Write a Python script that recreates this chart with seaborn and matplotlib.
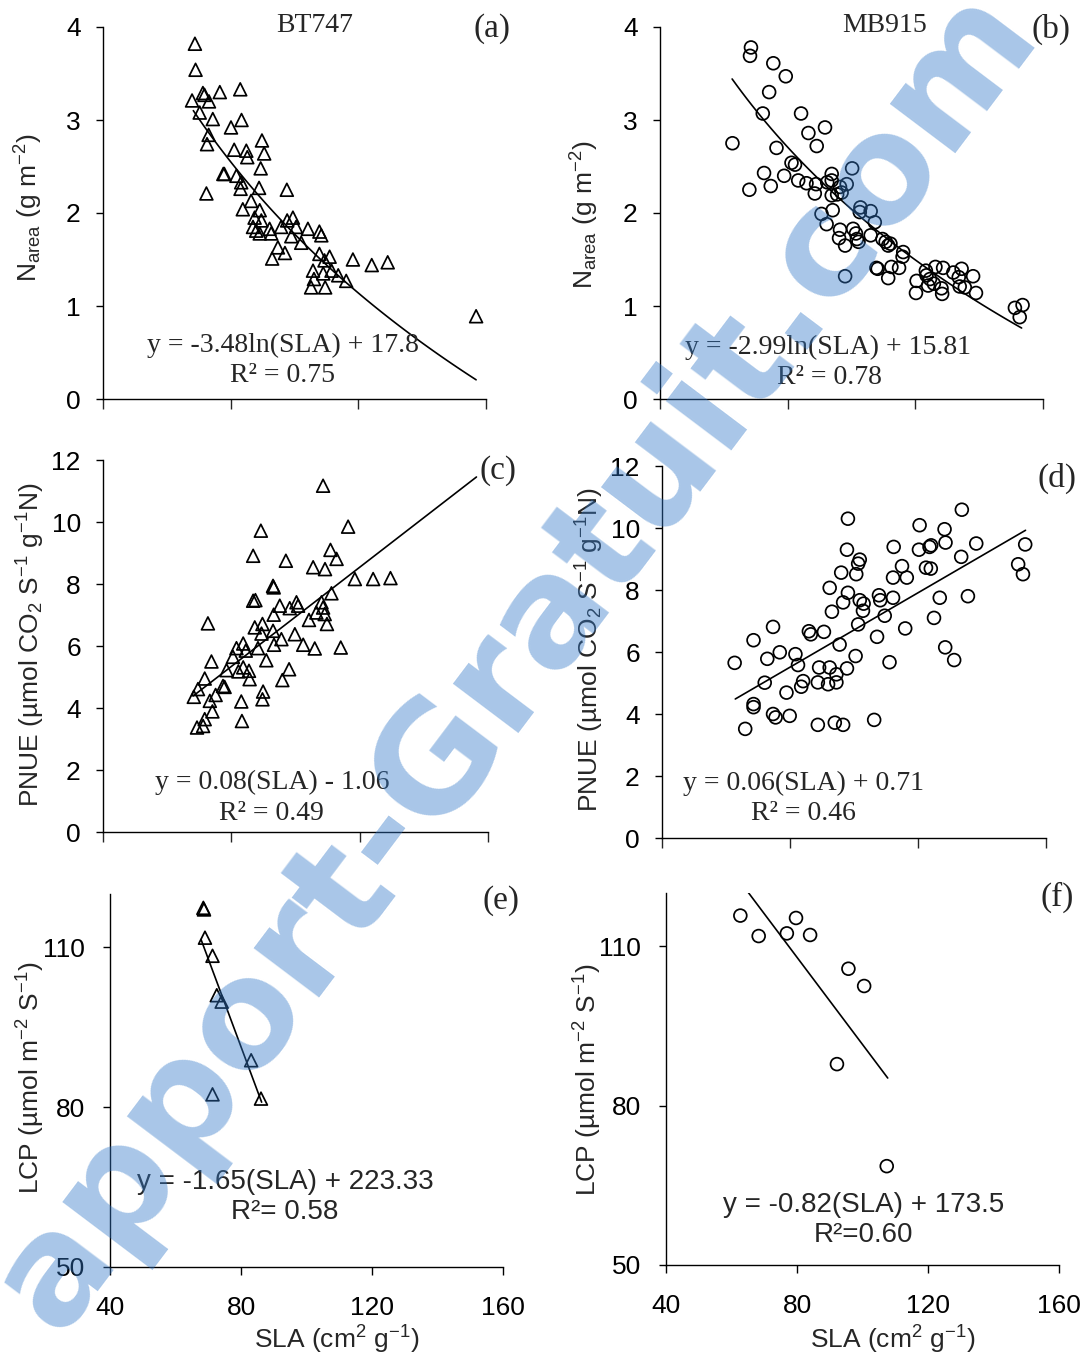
import numpy as np
import pandas as pd
import matplotlib
matplotlib.use('Agg')
import matplotlib.pyplot as plt
import seaborn as sns

# ---------------- data ----------------
a_sla = [68.8, 69.0, 67.9, 71.3, 71.8, 73.2, 70.3, 76.6, 83.0, 74.4, 80.1, 83.4, 73.1, 72.6, 81.1, 84.9, 85.2, 89.8, 90.5, 89.4,
         77.7, 78.0, 81.8, 83.3, 83.1, 72.4, 88.9, 97.6, 86.4, 83.8, 89.1, 87.5, 89.6, 87.0, 88.0, 89.1, 92.2, 92.7, 95.8, 97.7,
         99.5, 100.5, 99.0, 102.1, 104.2, 107.8, 108.4, 94.8, 97.0, 93.0, 107.8, 109.4, 111.0, 105.8, 109.0, 111.6, 113.7, 116.2,
         105.2, 109.6, 106.1, 118.3, 124.2, 129.2, 156.9]
a_narea = [3.82, 3.54, 3.21, 3.29, 3.27, 3.20, 3.08, 3.30, 3.33, 3.01, 2.92, 3.00, 2.84, 2.74, 2.68, 2.67, 2.60, 2.78, 2.64, 2.48,
           2.42, 2.42, 2.40, 2.33, 2.26, 2.21, 2.27, 2.25, 2.13, 2.04, 2.03, 1.95, 1.92, 1.85, 1.81, 1.78, 1.83, 1.78, 1.85, 1.92,
           1.95, 1.85, 1.75, 1.68, 1.83, 1.80, 1.76, 1.63, 1.57, 1.51, 1.56, 1.49, 1.53, 1.38, 1.35, 1.38, 1.33, 1.27,
           1.20, 1.20, 1.29, 1.50, 1.44, 1.47, 0.89]

b_sla = [68.5, 68.2, 75.5, 79.4, 74.2, 72.2, 84.2, 91.7, 86.5, 89.1, 62.7, 76.5, 81.2, 82.3, 100.2, 72.6, 78.9, 83.3, 85.9, 88.9,
         74.7, 68.0, 93.8, 93.8, 96.4, 98.5, 88.5, 92.4, 95.5, 93.8, 96.9, 90.6, 94.1, 102.8, 102.6, 106.0, 92.2, 107.3, 96.4, 100.5,
         101.4, 96.1, 98.0, 101.7, 102.2, 106.0, 109.7, 111.5, 110.7, 112.2, 116.2, 116.0, 108.2, 107.8, 112.5, 114.9, 111.5, 98.0,
         120.4, 120.2, 123.3, 123.5, 124.6, 126.3, 128.7, 124.0, 125.8, 128.2, 128.4, 131.9, 134.5, 133.6, 133.9, 135.5, 138.1,
         139.0, 151.2, 153.6, 152.7]
b_narea = [3.78, 3.69, 3.61, 3.47, 3.30, 3.07, 3.07, 2.92, 2.86, 2.72, 2.75, 2.70, 2.54, 2.52, 2.48, 2.43, 2.40, 2.35, 2.32, 2.31,
           2.29, 2.25, 2.42, 2.35, 2.28, 2.31, 2.21, 2.33, 2.20, 2.19, 2.22, 1.99, 2.03, 2.06, 2.01, 2.02, 1.88, 1.90, 1.82, 1.83,
           1.78, 1.73, 1.65, 1.72, 1.69, 1.76, 1.72, 1.65, 1.69, 1.67, 1.58, 1.53, 1.40, 1.41, 1.42, 1.41, 1.30, 1.32,
           1.27, 1.14, 1.38, 1.33, 1.29, 1.42, 1.41, 1.22, 1.24, 1.19, 1.13, 1.36, 1.40, 1.31, 1.21, 1.20, 1.32,
           1.14, 0.98, 1.01, 0.88]

c_sla = [108.6, 89.2, 116.4, 110.9, 112.8, 86.8, 97.0, 105.5, 109.2, 118.5, 124.2, 129.6, 93.0, 93.2, 111.2, 86.8, 87.5, 95.1,
         98.2, 100.3, 100.8, 108.1, 108.6, 106.5, 109.1, 109.8, 93.2, 104.2, 72.7, 87.3, 89.7, 89.4, 93.0, 95.6, 99.8, 102.4,
         106.0, 114.1, 93.3, 88.3, 81.6, 83.7, 84.5, 80.5, 90.9, 73.8, 78.5, 82.2, 83.7, 85.5, 85.7, 98.0, 95.9, 71.7, 77.4,
         77.9, 69.6, 68.3, 75.1, 73.3, 83.1, 89.9, 89.7, 74.1, 71.7, 69.3, 71.2, 83.3]
c_pnue = [11.17, 9.72, 9.85, 9.10, 8.81, 8.91, 8.75, 8.54, 8.48, 8.16, 8.16, 8.19, 7.94, 7.89, 7.70, 7.46, 7.48, 7.30,
          7.22, 7.41, 7.30, 7.41, 7.24, 7.08, 7.03, 6.71, 7.01, 6.84, 6.73, 6.60, 6.71, 6.40, 6.49, 6.22, 6.38, 6.04,
          5.92, 5.95, 6.04, 5.93, 5.93, 6.08, 5.85, 5.65, 5.54, 5.50, 5.22, 5.18, 5.31, 5.20, 4.93, 5.25, 4.90, 4.95, 4.71,
          4.68, 4.61, 4.36, 4.42, 4.23, 4.21, 4.53, 4.28, 3.89, 3.64, 3.37, 3.42, 3.58]

d_sla = [98.1, 133.7, 120.5, 128.3, 112.4, 97.8, 101.8, 101.3, 120.3, 123.6, 124.1, 128.6, 138.2, 153.5, 133.5, 151.3, 152.8,
         96.0, 100.7, 115.0, 112.2, 116.5, 122.5, 124.0, 92.4, 98.1, 96.6, 101.8, 103.0, 102.8, 107.8, 108.2, 112.2, 126.8,
         135.6, 93.1, 109.6, 101.3, 116.0, 125.0, 74.7, 85.9, 86.5, 90.6, 68.6, 107.2, 95.5, 76.8, 81.7, 72.9, 62.7, 82.5,
         100.5, 111.1, 128.5, 131.3, 89.1, 92.4, 94.5, 97.8, 72.1, 84.1, 83.5, 88.7, 91.9, 94.5, 78.9, 68.6, 68.6, 74.7,
         75.5, 79.9, 66.0, 88.7, 94.0, 96.6, 106.3]
d_pnue = [10.30, 10.59, 10.09, 9.96, 9.39, 9.30, 8.98, 8.85, 9.30, 9.39, 9.44, 9.53, 9.50, 9.47, 9.07, 8.83, 8.51,
          8.56, 8.51, 8.77, 8.40, 8.40, 8.72, 8.69, 8.07, 7.91, 7.60, 7.67, 7.56, 7.33, 7.83, 7.67, 7.75, 7.75,
          7.80, 7.30, 7.17, 6.89, 6.76, 7.10, 6.81, 6.67, 6.57, 6.65, 6.38, 6.49, 6.24, 5.99, 5.93, 5.78, 5.65, 5.58,
          5.87, 5.67, 6.15, 5.74, 5.50, 5.50, 5.28, 5.47, 5.01, 5.06, 4.88, 5.02, 4.96, 5.02, 4.69, 4.32, 4.22, 4.00,
          3.89, 3.94, 3.52, 3.65, 3.72, 3.65, 3.81]

e_sla = [68.5, 68.7, 69.0, 71.3, 72.6, 74.1, 83.1, 71.3, 86.1]
e_lcp = [117.4, 117.1, 111.8, 108.4, 101.0, 99.8, 88.8, 82.4, 81.6]

f_sla = [62.7, 68.3, 76.9, 79.7, 84.0, 95.7, 100.5, 92.2, 107.4]
f_lcp = [115.75, 111.9, 112.4, 115.3, 112.1, 105.75, 102.5, 87.8, 68.6]

# trend-line coefficients (from the equations printed on the chart) and x-extent
fit_kind = ['log', 'log', 'lin', 'lin', 'lin', 'lin']
fit_slope = [-3.48, -2.99, 0.08, 0.06, -1.65, -0.82]
fit_icpt = [17.8, 15.81, -1.06, 0.71, 223.33, 173.5]
fit_xmin = [68.3, 62.6, 68.1, 62.9, 67.8, 65.0]
fit_xmax = [156.9, 153.3, 156.4, 153.6, 86.3, 107.7]

eq_text = ['y = -3.48ln(SLA) + 17.8', 'y = -2.99ln(SLA) + 15.81', 'y = 0.08(SLA) - 1.06',
           'y = 0.06(SLA) + 0.71', 'y = -1.65(SLA) + 223.33', 'y = -0.82(SLA) + 173.5']
r2_text = ['R² = 0.75', 'R² = 0.78', 'R² = 0.49', 'R² = 0.46', 'R²= 0.58', 'R²=0.60']
panel_tags = ['(a)', '(b)', '(c)', '(d)', '(e)', '(f)']
cultivars = ['BT747', 'MB915']
x_ticks = [40, 80, 120, 160]
ylabels = ['N$_{area}$ (g m$^{-2}$)', 'N$_{area}$ (g m$^{-2}$)',
           'PNUE (µmol CO$_2$ S$^{-1}$ g$^{-1}$N)', 'PNUE (µmol CO$_2$ S$^{-1}$ g$^{-1}$N)',
           'LCP (µmol m$^{-2}$ S$^{-1}$)', 'LCP (µmol m$^{-2}$ S$^{-1}$)']
xlabel = 'SLA (cm$^2$ g$^{-1}$)'
watermark = 'apport-Gratuit.com'

# ---------------- style ----------------
sns.set_style('ticks')
plt.rcParams['font.family'] = ['Liberation Sans', 'DejaVu Sans']
plt.rcParams['mathtext.default'] = 'regular'
plt.rcParams['axes.linewidth'] = 1.0

W, H = 1086, 1360
fig = plt.figure(figsize=(W / 100, H / 100), dpi=100)

# axes rectangles in pixels: left, top, right, bottom
rects = [(103, 27, 486, 399), (660, 27, 1043, 399),
         (103, 460, 488, 832), (662, 466, 1046, 838),
         (110, 894, 503, 1267), (666, 893, 1059, 1265)]

def fx(px):
    return px / W

def fy(py):
    return 1 - py / H

xs_all = [a_sla, b_sla, c_sla, d_sla, e_sla, f_sla]
ys_all = [a_narea, b_narea, c_pnue, d_pnue, e_lcp, f_lcp]
ylims = [(0, 4), (0, 4), (0, 12), (0, 12), (50, 120), (50, 120)]
yticks = [[0, 1, 2, 3, 4], [0, 1, 2, 3, 4], list(range(0, 13, 2)), list(range(0, 13, 2)), [50, 80, 110], [50, 80, 110]]

ylab_pos = [(29, 208), (585, 215), (31, 645), (590, 650), (31, 1078), (588, 1080)]
xlab_pos = [None, None, None, None, (337, 1340), (893, 1340)]
eq_pos = [(283, 345), (828, 347), (272, 782), (803, 783), (285, 1182), (864, 1205)]
r2_pos = [(283, 376), (829, 377), (271, 813), (803, 813), (285, 1212), (864, 1235)]
tag_pos = [(492, 29), (1051, 29), (498, 471), (1057, 478), (501, 901), (1057, 897)]
title_pos = [(315, 25), (885, 25)]

serif = ['Liberation Serif', 'DejaVu Serif']
sans = ['Liberation Sans', 'DejaVu Sans']

for i in range(6):
    l, t, r, b = rects[i]
    ax = fig.add_axes([fx(l), fy(b), fx(r) - fx(l), (b - t) / H])
    df = pd.DataFrame({'SLA': xs_all[i], 'Y': ys_all[i]})
    marker = '^' if i % 2 == 0 else 'o'
    sns.scatterplot(data=df, x='SLA', y='Y', ax=ax, marker=marker, s=85,
                    facecolor='none', edgecolor='black', linewidth=1.25, zorder=3, legend=False)
    xf = np.linspace(fit_xmin[i], fit_xmax[i], 60)
    if fit_kind[i] == 'log':
        yf = fit_slope[i] * np.log(xf) + fit_icpt[i]
    else:
        yf = fit_slope[i] * xf + fit_icpt[i]
    sns.lineplot(x=xf, y=yf, ax=ax, color='black', linewidth=1.2, zorder=2)

    ax.set_xlim(40, 160)
    ax.set_ylim(*ylims[i])
    ax.set_xticks(x_ticks)
    ax.set_yticks(yticks[i])
    sns.despine(ax=ax)
    for sp in ['left', 'bottom']:
        ax.spines[sp].set_color('black')
        ax.spines[sp].set_linewidth(1.0)
    ax.tick_params(axis='y', direction='out', length=5, width=1, colors='black',
                   labelsize=19, pad=11 if i < 4 else 13)
    if i < 4:
        ax.tick_params(axis='x', direction='out', length=7, width=1, labelbottom=False)
        ax.set_xlabel('')
    else:
        ax.tick_params(axis='x', direction='out', length=6, width=1, labelsize=19, pad=15, colors='black')
        ax.set_xlabel(xlabel, fontsize=19)
        px, py = xlab_pos[i]
        ax.xaxis.set_label_coords((px - l) / (r - l), -(py - b) / (b - t))
        ax.xaxis.label.set_va('center')
    ax.set_ylabel(ylabels[i], fontsize=19)
    lx, ly = ylab_pos[i]
    ax.yaxis.set_label_coords((lx - l) / (r - l), (b - ly) / (b - t))
    ax.yaxis.label.set_va('center')

    fam = serif if i < 4 else sans
    fs = 20
    fig.text(fx(eq_pos[i][0]), fy(eq_pos[i][1]), eq_text[i], ha='center', va='center',
             fontsize=fs, family=fam)
    fig.text(fx(r2_pos[i][0]), fy(r2_pos[i][1]), r2_text[i], ha='center', va='center',
             fontsize=fs, family=fam)
    fig.text(fx(tag_pos[i][0]), fy(tag_pos[i][1]), panel_tags[i], ha='center', va='center',
             fontsize=24, family=serif)

for j, name in enumerate(cultivars):
    fig.text(fx(title_pos[j][0]), fy(title_pos[j][1]), name, ha='center', va='center',
             fontsize=20, family=serif)

# light-blue watermark across the figure
fig.text(0.475, 0.515, watermark, rotation=53, fontsize=108, fontweight='bold',
         color=(50 / 255, 120 / 255, 200 / 255), alpha=0.42, ha='center', va='center',
         family=['DejaVu Sans'], zorder=10)

fig.savefig('out.png', dpi=100)
